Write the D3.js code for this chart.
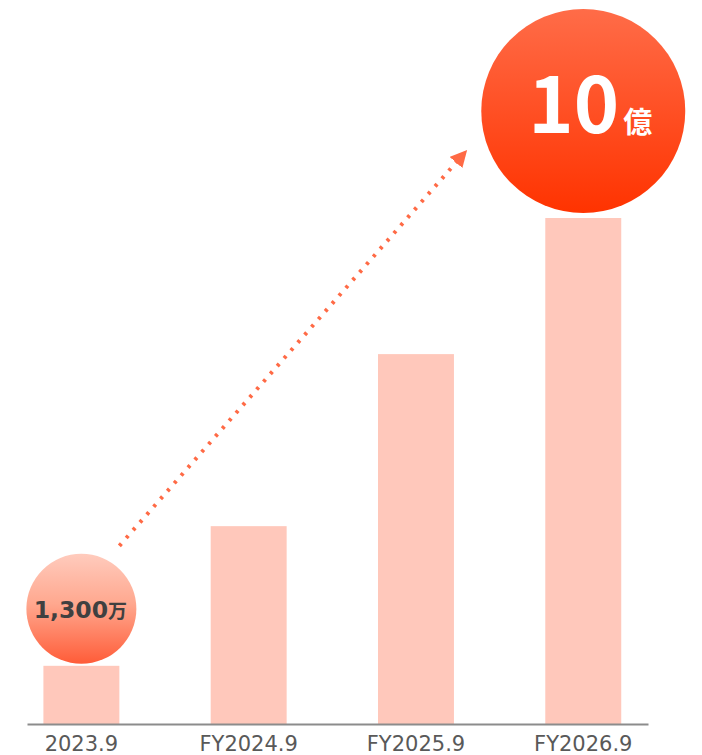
<!DOCTYPE html>
<html>
<head>
<meta charset="utf-8">
<script src="https://cdn.jsdelivr.net/npm/d3@7"></script>
<style>
  body { margin: 0; background: #fff; }
  svg { display: block; }
</style>
</head>
<body>
<svg id="chart"></svg>
<script>
// categories and relative bar heights (tallest = 100)
var categories = ["2023.9", "FY2024.9", "FY2025.9", "FY2026.9"];
var barValues = [11.5, 39.1, 73.1, 100];
// labels shown in the bubbles (first and last bar)
var startLabel = { num: "1,300", unit: "万" };
var endLabel = { num: "10", unit: "億" };

var width = 702, height = 755;
var baseY = 724;

var svg = d3.select("#chart").attr("width", width).attr("height", height);

var x = d3.scaleBand()
  .domain(categories)
  .range([27, 648])
  .paddingInner(0.546)
  .paddingOuter(0.129)
  .align(0.38);

var y = d3.scaleLinear().domain([0, 100]).range([baseY, 218]);

var defs = svg.append("defs");

var gSmall = defs.append("linearGradient").attr("id", "gradSmall")
  .attr("x1", 0).attr("y1", 0).attr("x2", 0).attr("y2", 1);
gSmall.append("stop").attr("offset", "0%").attr("stop-color", "#ffcbbd");
gSmall.append("stop").attr("offset", "45%").attr("stop-color", "#ffa88f");
gSmall.append("stop").attr("offset", "100%").attr("stop-color", "#ff5c38");

var gBig = defs.append("linearGradient").attr("id", "gradBig")
  .attr("x1", 0).attr("y1", 0).attr("x2", 0).attr("y2", 1);
gBig.append("stop").attr("offset", "0%").attr("stop-color", "#ff6c48");
gBig.append("stop").attr("offset", "100%").attr("stop-color", "#ff3300");

defs.append("marker")
  .attr("id", "arrowHead")
  .attr("viewBox", "0 0 10 10")
  .attr("refX", 2).attr("refY", 5)
  .attr("markerWidth", 4.2).attr("markerHeight", 4.2)
  .attr("markerUnits", "strokeWidth")
  .attr("orient", "auto")
  .append("path")
  .attr("d", "M0,0 L10,5 L0,10 Z")
  .attr("fill", "#ff6a45");

// bars
svg.selectAll("rect.bar")
  .data(categories)
  .enter().append("rect")
  .attr("class", "bar")
  .attr("x", function (d) { return x(d); })
  .attr("y", function (d, i) { return y(barValues[i]); })
  .attr("width", x.bandwidth())
  .attr("height", function (d, i) { return baseY - y(barValues[i]); })
  .attr("fill", "#ffc8bb");

// baseline + category labels
var axis = d3.axisBottom(x).tickSize(0).tickPadding(12);
var ax = svg.append("g").attr("transform", "translate(0," + baseY + ")").call(axis);
ax.select(".domain").attr("stroke", "#8c8c8c").attr("stroke-width", 2);
ax.selectAll("text")
  .attr("font-family", "'DejaVu Sans', Verdana, sans-serif")
  .attr("font-size", 21)
  .attr("fill", "#595959");

// bubbles
var cx0 = x(categories[0]) + x.bandwidth() / 2;
var cy0 = y(barValues[0]) - 57;
var r0 = 55;
var last = categories.length - 1;
var cx1 = x(categories[last]) + x.bandwidth() / 2;
var cy1 = y(barValues[last]) - 107;
var r1 = 102;

// dotted arrow
svg.append("line")
  .attr("x1", cx0 + 38).attr("y1", cy0 - 63)
  .attr("x2", cx1 - 125).attr("y2", cy1 + 49)
  .attr("stroke", "#ff6a45")
  .attr("stroke-width", 4)
  .attr("stroke-dasharray", "3 7.4")
  .attr("marker-end", "url(#arrowHead)");

svg.append("circle")
  .attr("cx", cx0).attr("cy", cy0).attr("r", r0)
  .attr("fill", "url(#gradSmall)");

var t0 = svg.append("text")
  .attr("x", cx0 - 1).attr("y", cy0 + 9)
  .attr("text-anchor", "middle")
  .attr("font-family", "'DejaVu Sans', Verdana, sans-serif")
  .attr("font-weight", "bold")
  .attr("fill", "#404040");
t0.append("tspan").attr("font-size", 23.5).text(startLabel.num);
t0.append("tspan").attr("font-size", 19)
  .attr("font-family", "'Noto Sans CJK JP', sans-serif").text(startLabel.unit);

svg.append("circle")
  .attr("cx", cx1).attr("cy", cy1).attr("r", r1)
  .attr("fill", "url(#gradBig)");

var t1 = svg.append("text")
  .attr("x", cx1 + 7).attr("y", cy1 + 22)
  .attr("text-anchor", "middle")
  .attr("font-family", "'Noto Sans CJK JP', sans-serif")
  .attr("font-weight", "bold")
  .attr("fill", "#ffffff");
t1.append("tspan").attr("font-size", 77).text(endLabel.num);
t1.append("tspan").attr("font-size", 29).attr("dx", 4).text(endLabel.unit);
</script>
</body>
</html>
